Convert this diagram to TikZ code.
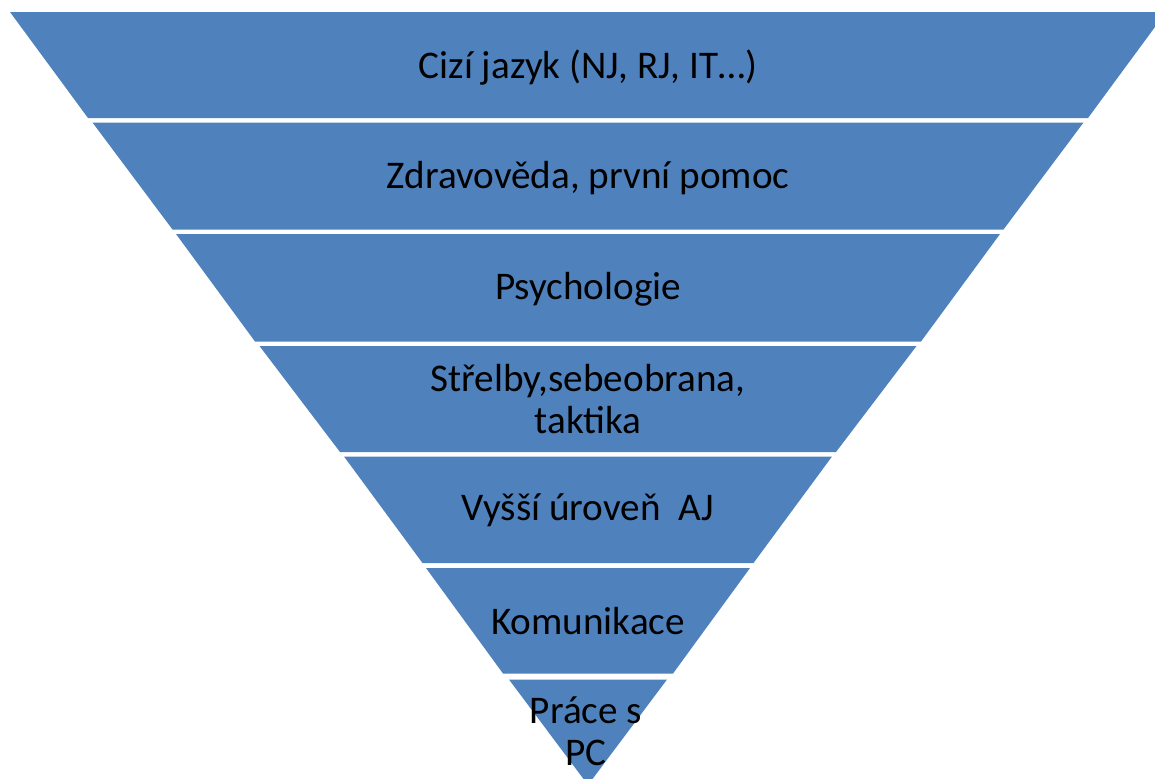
\documentclass[tikz,border=0pt]{standalone}
\usepackage{fontspec}
\setmainfont{Carlito}
\usepackage{tikz}
\definecolor{pyrblue}{HTML}{4F81BD}
\tikzset{
	band/.style={fill=pyrblue, draw=none},
	bandtext/.style={text=black, align=center, inner sep=0pt, font=\fontsize{22.3}{23.8}\selectfont}
}

\begin{document}
\begin{tikzpicture}[x=0.02cm, y=-0.02cm]
		%%%%% START %%%%%
		
		\useasboundingbox (0, 0) rectangle (1155, 778);
		\clip (0, 0) rectangle (1155, 778);
		
		% bands, top to bottom
		\fill[band] (10, 12) -- (1166, 12) -- (1088, 118) -- (88, 118) -- cycle;
		\fill[band] (92.5, 122.5) -- (1083.5, 122.5) -- (1003.5, 229.5) -- (172.5, 229.5) -- cycle;
		\fill[band] (176, 234) -- (1000, 234) -- (921, 341.5) -- (255, 341.5) -- cycle;
		\fill[band] (259.5, 346) -- (916.5, 346) -- (836, 452) -- (340, 452) -- cycle;
		\fill[band] (344, 456.5) -- (832, 456.5) -- (753.5, 563) -- (422.5, 563) -- cycle;
		\fill[band] (426, 568) -- (750, 568) -- (673, 673.5) -- (503, 673.5) -- cycle;
		\fill[band] (509, 679.5) -- (667, 679.5) -- (588, 785) -- cycle;
		
		% labels
		\node[bandtext] (jazyk) at (588, 68) {Cizí jazyk (NJ, RJ, IT…)};
		\node[bandtext] (zdravo) at (588, 178) {Zdravověda, první pomoc};
		\node[bandtext] (psycho) at (588, 289) {Psychologie};
		\node[bandtext] (strelby) at (588, 399) {Střelby,sebeobrana,\\taktika};
		\node[bandtext] (vyssi) at (588, 510) {Vyšší úroveň~ AJ};
		\node[bandtext] (komu) at (588, 621) {Komunikace};
		\node[bandtext] (prace) at (586, 731) {Práce s\\PC};
		
		%%%%% END %%%%%
	\end{tikzpicture}
\end{document}
